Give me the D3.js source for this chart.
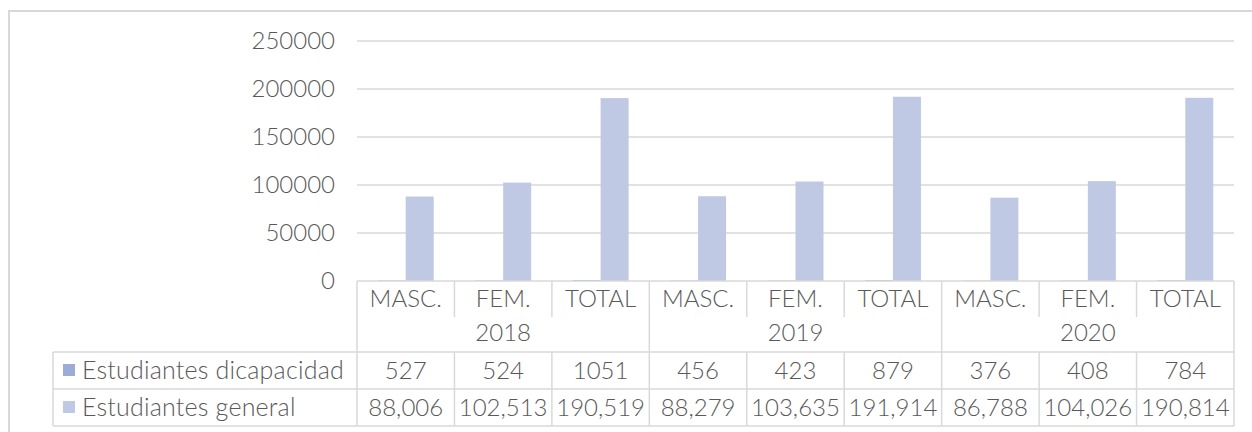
<!DOCTYPE html>
<html>
<head>
<meta charset="utf-8">
<script src="https://cdn.jsdelivr.net/npm/d3@7"></script>
<style>
	body { margin: 0; background: #fff; }
	text { font-family: Lato, "Open Sans", sans-serif; font-weight: 300; fill: #595959; }
</style>
</head>
<body>
<script>
var width = 1252,
	height = 432;

var years = ['2018', '2019', '2020'];
var categories = ['MASC.', 'FEM.', 'TOTAL'];
var seriesNames = ['Estudiantes dicapacidad', 'Estudiantes general'];
var dicapacidad = [527, 524, 1051, 456, 423, 879, 376, 408, 784];
var general = [88006, 102513, 190519, 88279, 103635, 191914, 86788, 104026, 190814];
var yTicks = [0, 50000, 100000, 150000, 200000, 250000];

var colors = ['#9dabd7', '#bfc9e4'];
var lineColor = '#d9d9d9';
var fontSize = '24px';

var plot = {
	left: 357,
	right: 1234,
	top: 41,
	bottom: 281,
};

var table = {
	catRow: 281,
	catDivEnd: 317,
	yearRowEnd: 352,
	row1End: 389,
	row2End: 426,
	legendLeft: 53,
};

var cols = [];
years.forEach(function(y) {
	categories.forEach(function(c) {
		cols.push(y + '|' + c);
	});
});

var x = d3.scaleBand()
	.domain(cols)
	.range([plot.left, plot.right]);

var y = d3.scaleLinear()
	.domain([0, 250000])
	.range([plot.bottom, plot.top]);

var barW = 28;

var svg = d3.select('body')
	.append('svg')
	.attr('width', width)
	.attr('height', height);

// outer frame
svg.append('rect')
	.attr('x', 9)
	.attr('y', 11)
	.attr('width', width)
	.attr('height', height)
	.attr('fill', 'none')
	.attr('stroke', lineColor)
	.attr('stroke-width', 2);

// gridlines
svg.selectAll('line.grid')
	.data(yTicks.filter(function(d) { return d > 0; }))
	.enter()
	.append('line')
	.attr('class', 'grid')
	.attr('x1', plot.left)
	.attr('x2', plot.right)
	.attr('y1', function(d) { return y(d); })
	.attr('y2', function(d) { return y(d); })
	.attr('stroke', lineColor)
	.attr('stroke-width', 1.5);

// y axis labels
var yAxis = d3.axisLeft(y)
	.tickValues(yTicks)
	.tickFormat(d3.format('d'))
	.tickSize(0)
	.tickPadding(22);

var ya = svg.append('g')
	.attr('transform', 'translate(' + plot.left + ',0)')
	.call(yAxis);
ya.select('.domain').remove();
ya.selectAll('text')
	.style('font-size', fontSize)
	.style('font-family', 'Lato, sans-serif')
	.attr('fill', '#595959');

// bars
[dicapacidad, general].forEach(function(vals, s) {
	svg.selectAll('rect.s' + s)
		.data(vals)
		.enter()
		.append('rect')
		.attr('class', 's' + s)
		.attr('x', function(d, i) {
			return x(cols[i]) + x.bandwidth() / 2 - barW + s * barW;
		})
		.attr('y', function(d) { return y(d); })
		.attr('width', barW)
		.attr('height', function(d) { return y(0) - y(d); })
		.attr('fill', colors[s]);
});

// table lines
function hline(x1, x2, yy) {
	svg.append('line')
		.attr('x1', x1).attr('x2', x2)
		.attr('y1', yy).attr('y2', yy)
		.attr('stroke', lineColor)
		.attr('stroke-width', 1.5);
}
function vline(xx, y1, y2) {
	svg.append('line')
		.attr('x1', xx).attr('x2', xx)
		.attr('y1', y1).attr('y2', y2)
		.attr('stroke', lineColor)
		.attr('stroke-width', 1.5);
}

hline(plot.left, plot.right, table.catRow);
hline(table.legendLeft, plot.right, table.yearRowEnd);
hline(table.legendLeft, plot.right, table.row1End);
hline(table.legendLeft, plot.right, table.row2End);
vline(table.legendLeft, table.yearRowEnd, table.row2End);

cols.forEach(function(c, i) {
	var xx = x(c);
	if (i % 3 == 0) {
		vline(xx, table.catRow, table.row2End);
	} else {
		vline(xx, table.catRow, table.catDivEnd);
		vline(xx, table.yearRowEnd, table.row2End);
	}
});
vline(plot.right, table.catRow, table.row2End);

// category labels
svg.selectAll('text.cat')
	.data(cols)
	.enter()
	.append('text')
	.attr('class', 'cat')
	.attr('x', function(d) { return x(d) + x.bandwidth() / 2; })
	.attr('y', 297)
	.attr('text-anchor', 'middle')
	.attr('dominant-baseline', 'central')
	.style('font-size', fontSize)
	.text(function(d) { return d.split('|')[1]; });

// year labels
svg.selectAll('text.year')
	.data(years)
	.enter()
	.append('text')
	.attr('class', 'year')
	.attr('x', function(d) {
		return x(d + '|' + categories[1]) + x.bandwidth() / 2;
	})
	.attr('y', 331)
	.attr('text-anchor', 'middle')
	.attr('dominant-baseline', 'central')
	.style('font-size', fontSize)
	.text(function(d) { return d; });

// data rows
var rowTops = [table.yearRowEnd, table.row1End];
var rowBottoms = [table.row1End, table.row2End];
var fmts = [d3.format('d'), d3.format(',')];

[dicapacidad, general].forEach(function(vals, s) {
	var cy = (rowTops[s] + rowBottoms[s]) / 2 - 1.5;

	svg.append('rect')
		.attr('x', 63)
		.attr('y', cy - 5)
		.attr('width', 12)
		.attr('height', 12)
		.attr('fill', colors[s]);

	svg.append('text')
		.attr('x', 82)
		.attr('y', cy)
		.attr('dominant-baseline', 'central')
		.style('font-size', '25px')
		.style('letter-spacing', '0.2px')
		.text(seriesNames[s]);

	svg.selectAll('text.v' + s)
		.data(vals)
		.enter()
		.append('text')
		.attr('class', 'v' + s)
		.attr('x', function(d, i) { return x(cols[i]) + x.bandwidth() / 2; })
		.attr('y', cy)
		.attr('text-anchor', 'middle')
		.attr('dominant-baseline', 'central')
		.style('font-size', fontSize)
		.text(function(d) { return fmts[s](d); });
});
</script>
</body>
</html>
